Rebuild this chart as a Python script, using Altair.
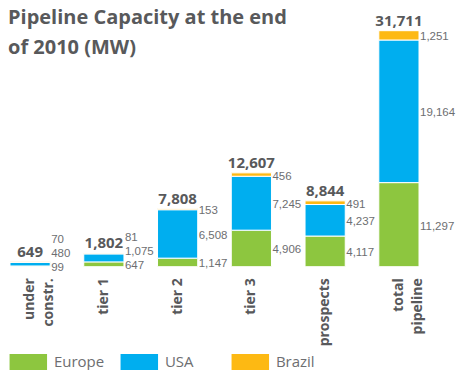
import altair as alt
import pandas as pd

categories = ["under constr.", "tier 1", "tier 2", "tier 3", "prospects", "total pipeline"]
series = ["Europe", "USA", "Brazil"]
europe = [99, 647, 1147, 4906, 4117, 11297]
usa = [480, 1075, 6508, 7245, 4237, 19164]
brazil = [70, 81, 153, 456, 491, 1251]
totals = [649, 1802, 7808, 12607, 8844, 31711]
colors = ["#8DC63F", "#00AEEF", "#FDB913"]

PLOT_H = 236
YMAX = max(totals)
min_gap = 14 * YMAX / PLOT_H  # label spacing expressed in MW

rows = []
for i, c in enumerate(categories):
    base = 0
    prev = None
    for s, vals in zip(series, [europe, usa, brazil]):
        v = vals[i]
        mid = base + v / 2
        lab = mid if prev is None else max(mid, prev + min_gap)
        rows.append({"category": c, "series": s, "start": base, "end": base + v,
                     "labpos": lab, "label": f"{v:,}"})
        prev = lab
        base += v
df = pd.DataFrame(rows)
tot = pd.DataFrame({"category": categories, "total": totals,
                    "tlabel": [f"{t:,}" for t in totals]})

FONT = "Open Sans"
VALFONT = "Liberation Sans"
xenc = alt.X(
    "category:N", sort=categories, title=None,
    scale=alt.Scale(paddingInner=0.455, paddingOuter=0.027),
    axis=alt.Axis(labelAngle=270, ticks=False, domain=False, labelPadding=11,
                  labelFontSize=14, labelFontWeight="bold", labelColor="#58595b",
                  labelFont=FONT, labelLineHeight=19,
                  labelExpr="indexof(datum.label, 'tier') == 0 ? datum.label : split(datum.label, ' ')"),
)
yscale = alt.Scale(domain=[0, YMAX], nice=False)

bars = alt.Chart(df).mark_bar(stroke="white", strokeWidth=1).encode(
    x=xenc,
    y=alt.Y("start:Q", scale=yscale, axis=None),
    y2="end:Q",
    color=alt.Color("series:N", sort=series,
                    scale=alt.Scale(domain=series, range=colors),
                    legend=alt.Legend(orient="none", legendX=1.3, legendY=312,
                                      direction="horizontal", title=None,
                                      symbolType="M-1,-0.43L1,-0.43L1,0.43L-1,0.43Z",
                                      symbolSize=1406, symbolStrokeWidth=0,
                                      symbolOpacity=1, gridAlign="all",
                                      labelFontSize=15, labelColor="#6d6e71",
                                      labelFont=FONT, labelOffset=6.6,
                                      columnPadding=16, padding=0)),
)

seg_labels = alt.Chart(df).mark_text(align="left", baseline="middle", dx=1, dy=2,
                                     fontSize=11.5, font=VALFONT, color="#6d6e71").encode(
    x=alt.X("category:N", sort=categories, bandPosition=1),
    y=alt.Y("labpos:Q", scale=yscale),
    text="label:N",
)

tot_labels = alt.Chart(tot).mark_text(baseline="alphabetic", dy=-5, fontSize=15,
                                      fontWeight="bold", font=FONT, color="#58595b").encode(
    x=alt.X("category:N", sort=categories),
    y=alt.Y("total:Q", scale=yscale),
    text="tlabel:N",
)

chart = alt.layer(bars, seg_labels, tot_labels).properties(
    width=413, height=PLOT_H,
    padding={"left": 0, "top": 22.7, "right": 35, "bottom": 103},
    autosize=alt.AutoSizeParams(type="none"),
    title=alt.TitleParams(["Pipeline Capacity at the end", "of 2010 (MW)"],
                          anchor="start", frame="group", orient="top",
                          fontSize=20, font=FONT, fontWeight="bold",
                          color="#58595b", lineHeight=30,
                          baseline="alphabetic", offset=-60),
).configure_view(stroke=None)

chart.save("out.html", embed_options={"renderer": "svg", "actions": False})
